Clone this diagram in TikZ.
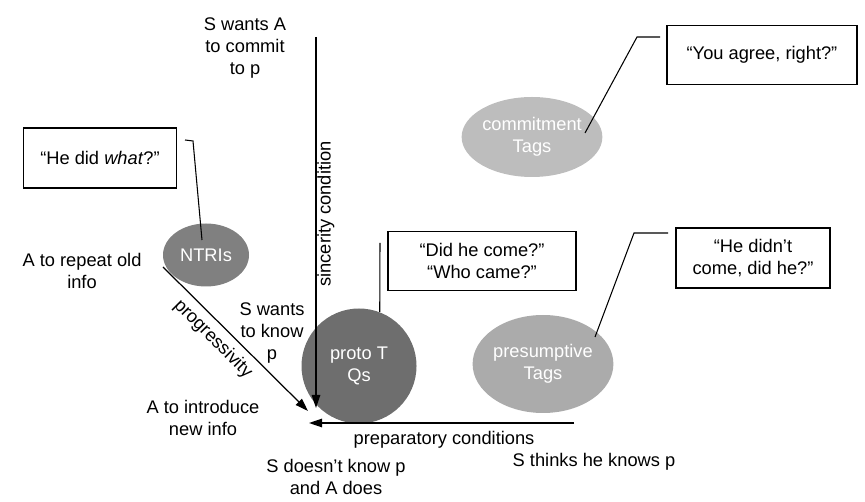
\documentclass[tikz,border=0pt]{standalone}
\usepackage{fontspec}
\setmainfont{Liberation Sans}
\usetikzlibrary{arrows.meta,shapes.geometric}

\tikzset{
    blob/.style={ellipse, inner sep=0pt, align=center, text=white},
    quotebox/.style={draw, line width=0.7pt, align=center},
    lbl/.style={align=center},
    axisarrow/.style={line width=0.7pt, -{Triangle[length=0.26cm,width=0.17cm]}},
    leader/.style={line width=0.6pt},
}

\begin{document}
\begin{tikzpicture}[font=\fontsize{10.4}{12.5}\selectfont]
    % Picture 865 x 501 px, 1 cm = 50 px, origin bottom left
    % Axes meet near (6.2,1.7): sincerity down, preparatory left, progressivity diagonal
    \useasboundingbox (0,0) rectangle (17.3,10.02);

    % 1. The four blobs
    \node[blob, fill=black!50, minimum width=1.72cm, minimum height=1.26cm] (ntri) at (4.12,4.92) {NTRIs};
    \node[blob, fill=black!57, minimum width=2.30cm, minimum height=2.30cm] (proto) at (7.18,2.70) {proto T\\Qs};
    \node[blob, fill=black!26, minimum width=2.50cm, minimum height=1.60cm] (commit) at (10.64,7.28) {commitment\\Tags};
    \node[blob, fill=black!33, minimum width=2.46cm, minimum height=1.96cm] (presum) at (10.86,2.74) {presumptive\\Tags};

    % 2. Example boxes
    \node[quotebox, minimum width=3.06cm, minimum height=1.20cm] (whatbox) at (2.00,6.86) {“He did \textit{what}?"};
    \node[quotebox, minimum width=3.76cm, minimum height=1.18cm] (didbox) at (9.64,4.80) {“Did he come?"\\“Who came?"};
    \node[quotebox, minimum width=3.80cm, minimum height=1.18cm] (agreebox) at (15.24,8.92) {“You agree, right?"};
    \node[quotebox, minimum width=3.08cm, minimum height=1.20cm] (didntbox) at (15.06,4.86) {“He didn’t\\come, did he?"};

    % 3. The three axes
    \coordinate (sincTop) at (6.32,9.28);
    \coordinate (sincTip) at (6.32,1.86);
    \coordinate (prepEnd) at (11.48,1.56);
    \coordinate (prepTip) at (6.18,1.56);
    \coordinate (progStart) at (3.26,4.68);
    \coordinate (progTip) at (6.16,1.80);
    \draw[axisarrow] (sincTop) -- (sincTip);
    \draw[axisarrow] (prepEnd) -- (prepTip);
    \draw[axisarrow] (progStart) -- (progTip);

    % 4. Leader lines from boxes to blobs
    \coordinate (wk1) at (3.70,7.22);
    \coordinate (wk2) at (3.86,7.20);
    \coordinate (wk3) at (4.04,5.22);
    \draw[leader] (wk1) -- (wk2) -- (wk3);

    \coordinate (dk1) at (7.60,5.16);
    \draw[leader] (dk1) -- (proto.69);

    \coordinate (ak1) at (13.20,9.28);
    \coordinate (ak2) at (12.74,9.28);
    \coordinate (ak3) at (11.70,7.36);
    \draw[leader] (ak1) -- (ak2) -- (ak3);

    \coordinate (nk1) at (13.36,5.36);
    \coordinate (nk2) at (12.68,5.36);
    \coordinate (nk3) at (11.90,3.28);
    \draw[leader] (nk1) -- (nk2) -- (nk3);

    % 5. Axis names
    \node[rotate=90] (sinc) at (6.52,5.74) {sincerity condition};
    \node (prep) at (8.88,1.22) {preparatory conditions};
    \node[rotate=-45] (prog) at (4.26,3.24) {progressivity};

    % 6. Labels at the ends
    \node[lbl] (commitA) at (4.90,9.06) {S wants A\\to commit\\to p};
    \node[lbl] (repeat) at (1.64,4.60) {A to repeat old\\info};
    \node[lbl] (wants) at (5.44,3.36) {S wants\\to know\\p};
    \node[lbl] (intro) at (4.06,1.66) {A to introduce\\new info};
    \node[lbl] (notknow) at (6.72,0.48) {S doesn’t know p\\and A does};
    \node[lbl] (thinks) at (11.88,0.78) {S thinks he knows p};

\end{tikzpicture}
\end{document}
